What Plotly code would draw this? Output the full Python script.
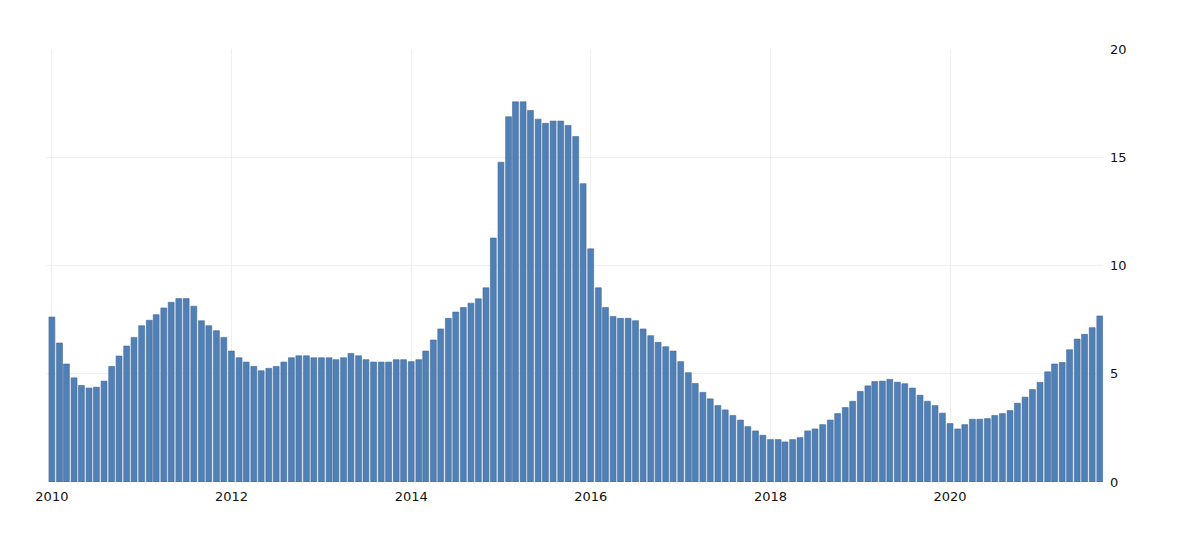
import pandas as pd
import plotly.graph_objects as go

# monthly values, Jan 2010 - Sep 2021
months = pd.date_range('2010-01-01', '2021-09-01', freq='MS')

values = [
    7.62, 6.42, 5.45, 4.81, 4.46, 4.34, 4.38, 4.66, 5.34, 5.82, 6.28, 6.68,   # 2010
    7.22, 7.47, 7.73, 8.04, 8.30, 8.47, 8.47, 8.12, 7.45, 7.22, 6.99, 6.68,   # 2011
    6.05, 5.74, 5.54, 5.34, 5.14, 5.25, 5.34, 5.54, 5.74, 5.83, 5.83, 5.74,   # 2012
    5.74, 5.74, 5.65, 5.74, 5.94, 5.83, 5.65, 5.54, 5.54, 5.54, 5.65, 5.65,   # 2013
    5.56, 5.65, 6.05, 6.56, 7.07, 7.56, 7.85, 8.06, 8.26, 8.46, 8.97, 11.27,  # 2014
    14.77, 16.87, 17.56, 17.56, 17.16, 16.76, 16.57, 16.67, 16.67, 16.47, 15.96, 13.78,  # 2015
    10.77, 8.97, 8.06, 7.65, 7.56, 7.56, 7.45, 7.07, 6.76, 6.45, 6.25, 6.05,  # 2016
    5.56, 5.05, 4.55, 4.14, 3.84, 3.53, 3.33, 3.07, 2.86, 2.56, 2.36, 2.16,   # 2017
    1.96, 1.96, 1.85, 1.96, 2.05, 2.36, 2.45, 2.65, 2.86, 3.16, 3.44, 3.73,   # 2018
    4.18, 4.44, 4.64, 4.66, 4.74, 4.61, 4.54, 4.34, 4.01, 3.73, 3.53, 3.18,   # 2019
    2.70, 2.45, 2.65, 2.90, 2.90, 2.93, 3.07, 3.16, 3.30, 3.64, 3.92, 4.27,   # 2020
    4.60, 5.09, 5.45, 5.52, 6.11, 6.60, 6.82, 7.13, 7.67,                     # 2021
]

y_ticks = [0, 5, 10, 15, 20]

fig = go.Figure()

fig.add_trace(go.Bar(
    x=months,
    y=values,
    width=24 * 86400000,
    marker=dict(color='#5080b5', line=dict(color='#41699b', width=0.6)),
    hoverinfo='skip',
))

# page body adds an 8px offset, so margins are shifted to compensate
fig.update_layout(
    width=1180,
    height=541,
    margin=dict(l=38, r=85, t=41, b=67),
    paper_bgcolor='white',
    plot_bgcolor='white',
    showlegend=False,
    font=dict(family='DejaVu Sans', size=13, color='#111111'),
    xaxis=dict(
        type='date',
        range=['2009-12-08', '2021-09-14'],
        tick0='2010-01-01',
        dtick='M24',
        tickformat='%Y',
        showgrid=True,
        gridcolor='#efefef',
        gridwidth=1,
        zeroline=False,
        showline=False,
        ticks='',
        ticklabelstandoff=5,
    ),
    yaxis=dict(
        side='right',
        range=[0, 20],
        tickvals=y_ticks,
        showgrid=True,
        gridcolor='#efefef',
        gridwidth=1,
        zeroline=False,
        showline=False,
        ticks='',
        ticklabelstandoff=6,
    ),
)

fig.write_html("out.html")
